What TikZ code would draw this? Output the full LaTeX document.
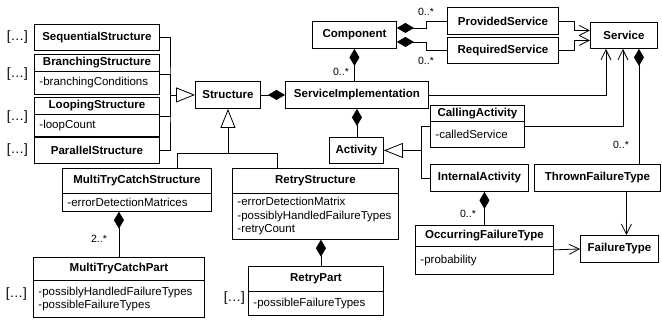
\documentclass[tikz,border=0pt]{standalone}
\usepackage{fontspec}
\setmainfont{Liberation Sans}
\usetikzlibrary{positioning,arrows.meta,shapes.multipart}

\newcommand{\classbox}[5]{%
  \parbox[c][#2pt][c]{#1pt}{\centering\bfseries #3}%
  \nodepart{two}%
  \parbox[c][#4pt][c]{#1pt}{\raggedright\leftskip=5pt #5}}

\tikzset{
  cls/.style={draw, line width=0.9pt, anchor=north west, inner sep=0pt, font=\fontsize{11.5}{13.5}\selectfont\bfseries},
  splitcls/.style={draw, line width=0.9pt, anchor=north west, inner sep=0pt, rectangle split, rectangle split parts=2, font=\fontsize{11.5}{13.5}\selectfont},
  more/.style={inner sep=0pt, font=\fontsize{13.5}{15}\selectfont},
  mult/.style={inner sep=0pt, font=\fontsize{10.5}{12}\selectfont},
  conn/.style={line width=0.8pt},
  gen/.style={conn, -{Triangle[open, length=19pt, width=15pt]}},
  comp/.style={conn, {Diamond[length=17pt, width=10pt]}-},
  nav/.style={conn, -{Straight Barb[length=10pt, width=10pt]}}
}

\begin{document}
\begin{tikzpicture}[x=1pt, y=-1pt]
        \useasboundingbox (0,0) rectangle (662,320);

        \node[cls, minimum width=125, minimum height=26] (SequentialStructure) at (34,24) {SequentialStructure};
        \node[splitcls] (BranchingStructure) at (34,54) {\classbox{125}{16}{BranchingStructure}{22}{-branchingConditions}};
        \node[splitcls] (LoopingStructure) at (34,97) {\classbox{125}{16}{LoopingStructure}{21}{-loopCount}};
        \node[cls, minimum width=125, minimum height=26] (ParallelStructure) at (34,137) {ParallelStructure};

        \node[more, left=6pt of SequentialStructure] (SequentialMore) {[…]};
        \node[more, left=6pt of BranchingStructure] (BranchingMore) {[…]};
        \node[more, left=6pt of LoopingStructure] (LoopingMore) {[…]};
        \node[more, left=6pt of ParallelStructure] (ParallelMore) {[…]};

        \node[cls, minimum width=65, minimum height=27] (Structure) at (195,81) {Structure};
        \node[cls, minimum width=143, minimum height=27] (ServiceImplementation) at (285,81) {ServiceImplementation};
        \node[cls, minimum width=84, minimum height=27] (Component) at (312,21) {Component};
        \node[cls, minimum width=111, minimum height=27] (ProvidedService) at (447,7) {ProvidedService};
        \node[cls, minimum width=111, minimum height=26] (RequiredService) at (447,37) {RequiredService};
        \node[cls, minimum width=67, minimum height=26] (Service) at (590,22) {Service};
        \node[cls, minimum width=54, minimum height=26] (Activity) at (329,137) {Activity};
        \node[splitcls] (CallingActivity) at (430,105) {\classbox{94}{15}{CallingActivity}{25}{-calledService}};
        \node[cls, minimum width=98, minimum height=27] (InternalActivity) at (430,164) {InternalActivity};
        \node[cls, minimum width=126, minimum height=27] (ThrownFailureType) at (534,164) {ThrownFailureType};
        \node[cls, minimum width=78, minimum height=27] (FailureType) at (580,235) {FailureType};
        \node[splitcls] (OccurringFailureType) at (415,225) {\classbox{138}{20}{OccurringFailureType}{27}{-probability}};

        \node[splitcls] (MultiTryCatchStructure) at (62,168) {\classbox{149}{24}{MultiTryCatchStructure}{17}{-errorDetectionMatrices}};
        \node[splitcls] (MultiTryCatchPart) at (33,257) {\classbox{171}{22}{MultiTryCatchPart}{36}{-possiblyHandledFailureTypes\\-possibleFailureTypes}};
        \node[splitcls] (RetryStructure) at (232,168) {\classbox{166}{24}{RetryStructure}{45}{-errorDetectionMatrix\\-possiblyHandledFailureTypes\\-retryCount}};
        \node[splitcls] (RetryPart) at (248,266) {\classbox{135}{24}{RetryPart}{23}{-possibleFailureTypes}};

        \node[more, left=6pt of MultiTryCatchPart, yshift=-7pt] (MultiTryCatchMore) {[…]};
        \node[more, left=3pt of RetryPart, yshift=-7pt] (RetryMore) {[…]};

        \node[mult] (ProvidedMult) at (426,12) {0..*};
        \node[mult] (RequiredMult) at (426,61) {0..*};
        \node[mult] (ImplementationMult) at (341,72) {0..*};
        \node[mult] (ThrownMult) at (621,145) {0..*};
        \node[mult] (OccurringMult) at (468,214) {0..*};
        \node[mult] (PartMult) at (99,239) {2..*};

        \coordinate (LeftJoin) at ([xshift=-25pt]Structure.west);
        \coordinate (BottomJoin) at ([yshift=-45pt]Structure.south);
        \coordinate (ActivityJoin) at ([xshift=37pt]Activity.east);
        \coordinate (ThrownLink) at ([xshift=15pt]Service.south);
        \coordinate (FailureLink) at ([xshift=7pt]FailureType.north);
        \coordinate (RetryLink) at ([xshift=5pt]RetryPart.north);

        \draw[conn] (SequentialStructure.east) -| (LeftJoin) |- (ParallelStructure.east);
        \draw[conn] (BranchingStructure.east) -| (LeftJoin);
        \draw[conn] (LoopingStructure.east) -| (LeftJoin);
        \draw[gen] (LeftJoin) -- (Structure.west);
        \draw[conn] ([xshift=40pt]MultiTryCatchStructure.north) |- (BottomJoin) -| ([xshift=-38pt]RetryStructure.north);
        \draw[gen] (BottomJoin) -- (Structure.south);

        \draw[comp] (ServiceImplementation.west) -- (Structure.east);
        \draw[comp] (Component.south) -- (Component.south |- ServiceImplementation.north);
        \draw[comp] (ServiceImplementation.south) -- (ServiceImplementation.south |- Activity.north);
        \draw[comp] ([yshift=7pt]Component.east) -- ++(29,0) |- (ProvidedService.west);
        \draw[comp] ([yshift=-7pt]Component.east) -- ++(29,0) |- (RequiredService.west);
        \draw[nav] (ProvidedService.east) -- ++(15,0) |- ([yshift=5pt]Service.west);
        \draw[nav] (RequiredService.east) -- ++(15,0) |- ([yshift=-5pt]Service.west);
        \draw[nav] (ServiceImplementation.east) -| ([xshift=-18pt]Service.south);
        \draw[nav] (CallingActivity.east) -| ([xshift=-1pt]Service.south);
        \draw[comp] (ThrownLink) -- (ThrownLink |- ThrownFailureType.north);

        \draw[conn] (CallingActivity.west) -| (ActivityJoin) |- (InternalActivity.west);
        \draw[gen] (ActivityJoin) -- (Activity.east);
        \draw[comp] (InternalActivity.south -| OccurringFailureType.north) -- (OccurringFailureType.north);
        \draw[nav] (OccurringFailureType.east) -- (FailureType.west);
        \draw[nav] (FailureLink |- ThrownFailureType.south) -- (FailureLink);

        \draw[comp] (MultiTryCatchPart.north |- MultiTryCatchStructure.south) -- (MultiTryCatchPart.north);
        \draw[comp] (RetryLink |- RetryStructure.south) -- (RetryLink);

\end{tikzpicture}
\end{document}
